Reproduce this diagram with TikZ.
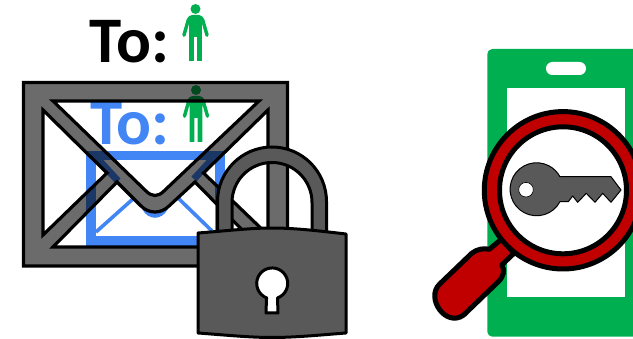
\documentclass[tikz,border=0pt]{standalone}
\usepackage{fontspec}
\setmainfont{Carlito}
\definecolor{grn}{HTML}{00B050}
\definecolor{blu}{HTML}{4285F4}
\definecolor{rd}{HTML}{C00000}
\definecolor{lockgray}{HTML}{595959}
\tikzset{
  toText/.style={font=\fontsize{65}{65}\selectfont\bfseries,inner sep=0pt,anchor=base west},
  outl/.style={draw=black,line width=3pt,line join=round},
  envfill/.style={draw=black,line width=3.2pt,line join=miter,miter limit=6,fill=black,fill opacity=0.58,even odd rule},
  lockfill/.style={outl,fill=lockgray},
  keyfill/.style={draw=black,line width=1pt,fill=lockgray,line join=round},
  person/.pic={
    \fill[grn] (0,0) circle (5);
    \fill[grn,rounded corners=1.6pt] (-5,6) -- (5,6) -- (8.4,9) -- (13.6,27) -- (10.4,28.5) -- (6.3,14) -- (6.3,14)
      [sharp corners] -- (6.3,52) -- (1.6,52) -- (1.6,28) -- (-1.6,28) -- (-1.6,52) -- (-6.3,52) -- (-6.3,14)
      [rounded corners=1.6pt] -- (-10.4,28.5) -- (-13.6,27) -- (-8.4,9) -- cycle;
  }
}
\begin{document}
\begin{tikzpicture}[x=1pt,y=-1pt]
\path[use as bounding box,clip] (0,0) rectangle (633,339);
% top label
\node[toText,text=black] (toA) at (89.5,63) {To:};
\pic at (195.5,9) {person};
% blue envelope and label under the grey one
\node[toText,text=blu] (toB) at (90,144.5) {To:};
\pic at (196,90) {person};
\draw[blu,line width=9.5pt] (91,155.5) rectangle (220,241);
\draw[blu,line width=3.6pt] (96,232) -- (134,198) (178,198) -- (212,231);
\draw[blu,line width=7pt] (94,155) -- (118,181) (216,155) -- (194,179);
\begin{scope}
  \clip (53,247) -- (117,182) -- (141,206) .. controls (149,214) and (161,214) .. (169,206) -- (195,182) -- (259,247) -- cycle;
  \draw[blu,line width=6pt,line cap=round] (145,208) .. controls (150,217) and (160,217) .. (165,208);
\end{scope}
% grey envelope
\path[envfill] (23.5,82.5) rectangle (287.5,266)
  (53,101) -- (259,101) -- (164,191) .. controls (158,197) and (152,197) .. (146,191) -- cycle
  (43,110) -- (107,173) -- (43,235) -- cycle
  (268,110) -- (268,235) -- (203.5,173) -- cycle
  (53,247) -- (117,182) -- (141,206) .. controls (149,214) and (161,214) .. (169,206) -- (195,182) -- (259,247) -- cycle;
% padlock
\path[lockfill,even odd rule] (217.5,235) -- (217.5,201.5) arc[start angle=180,end angle=360,radius=54.5] -- (326.5,235) -- (312,235) -- (312,202.5) arc[start angle=360,end angle=180,radius=40] -- (232,235) -- cycle;
\path[lockfill] (198,233) .. controls (225,231) and (250,228) .. (272,228) .. controls (295,228) and (320,231) .. (346,234)
  -- (346,333) .. controls (320,335) and (295,337.5) .. (272,337.5) .. controls (250,337.5) and (225,335) .. (198,333) -- cycle;
\path[outl,fill=white] (266.5,298) -- (266,313) -- (278,313) -- (277.5,298) arc[start angle=70,end angle=-250,radius=15.5] -- cycle;
% phone
\fill[grn,rounded corners=5pt] (487.3,49) rectangle (660,336.7);
\fill[white,rounded corners=6.4pt] (546,62) rectangle (586,75);
\fill[white] (507,88.3) rectangle (624.7,297.3);
% magnifier
\path[draw=black,line width=5pt,fill=rd,line join=round] (501.7,239) -- (489.3,249.3) .. controls (484,248) and (477,249) .. (471.7,253.3)
  -- (439.7,284) .. controls (425,298) and (446,328) .. (463.7,315)
  -- (498.3,281.7) .. controls (504,276) and (505,270) .. (501.7,265) -- (514,253.3) -- cycle;
\draw[black,line width=5pt,fill=rd] (563,190.3) circle (78.7);
\draw[black,line width=5pt,fill=white] (563,190.3) circle (63.5);
% key
\path[keyfill] (560,176.7) -- (611,176.7) -- (621,190) -- (611,202.3) -- (602.7,193.3) -- (595,202.3) -- (586.3,193.3) -- (577.7,202.3) -- (572.7,196) -- (568.3,201.7) -- (560,201.7)
  arc[start angle=28,end angle=332,radius=26.5] -- cycle;
\draw[black,line width=.6pt,fill=white] (526,189.7) circle (7.3);
\end{tikzpicture}
\end{document}
